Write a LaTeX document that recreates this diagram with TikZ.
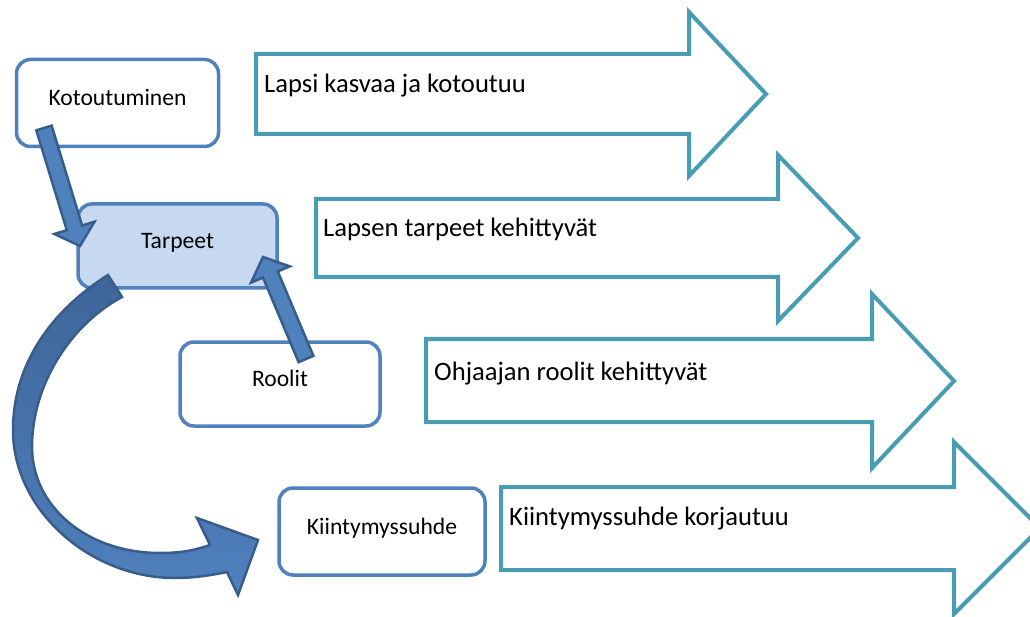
\documentclass[tikz,border=0pt]{standalone}
\usepackage{fontspec}
\setmainfont{Carlito}
\usetikzlibrary{calc}
\definecolor{boxblue}{RGB}{79,129,189}
\definecolor{boxfill}{RGB}{198,217,241}
\definecolor{trendteal}{RGB}{72,156,180}
\definecolor{darkblue}{RGB}{56,93,138}
\definecolor{curvetop}{RGB}{62,101,152}
\tikzset{
  stage/.style={draw=boxblue, line width=3.5pt, rounded corners=14pt, fill=white,
    font=\fontsize{23.6}{28}\selectfont, text height=17pt, text depth=12pt},
  trend/.style={draw=trendteal, line width=4pt, fill=white},
  trendtext/.style={anchor=base west, inner sep=0pt, font=\fontsize{26.6}{32}\selectfont},
  push/.style={draw=darkblue, line width=2.5pt, fill=boxblue,
    to path={($(\tikztostart)!8pt!90:(\tikztotarget)$)
      -- ($(\tikztotarget)!19pt!(\tikztostart)!8pt!90:(\tikztotarget)$)
      -- ($(\tikztotarget)!19pt!(\tikztostart)!21pt!90:(\tikztotarget)$)
      -- (\tikztotarget)
      -- ($(\tikztotarget)!19pt!(\tikztostart)!21pt!-90:(\tikztotarget)$)
      -- ($(\tikztotarget)!19pt!(\tikztostart)!8pt!-90:(\tikztotarget)$)
      -- ($(\tikztostart)!8pt!-90:(\tikztotarget)$) -- cycle}},
  curve/.style={draw=darkblue, line width=2.5pt, top color=curvetop, bottom color=boxblue}
}
\begin{document}
\begin{tikzpicture}[x=1pt,y=-1pt]
  \clip (0,0) rectangle (1030,617);
  % big arrows on the right
  \draw[trend] (256,54) -- (689,54) -- (689,12) -- (766,94) -- (689,176) -- (689,134) -- (256,134) -- cycle;
  \draw[trend] (316,199) -- (778,199) -- (778,155) -- (858,238) -- (778,321) -- (778,277) -- (316,277) -- cycle;
  \draw[trend] (426,339) -- (872,339) -- (872,294) -- (954,381) -- (872,468) -- (872,422) -- (426,422) -- cycle;
  \draw[trend] (501,487) -- (954,487) -- (954,442) -- (1040,528) -- (954,614) -- (954,570) -- (501,570) -- cycle;
  \node[trendtext] (lapsi) at (264,93) {Lapsi kasvaa ja kotoutuu};
  \node[trendtext] (lapsen) at (323,237) {Lapsen tarpeet kehittyvät};
  \node[trendtext] (ohjaaja) at (434,380) {Ohjaajan roolit kehittyvät};
  \node[trendtext] (korjaus) at (509,525) {Kiintymyssuhde korjautuu};
  % boxes
  \node[stage, minimum width=202pt, minimum height=87pt] (kot) at (117.5,103) {Kotoutuminen};
  \node[stage, fill=boxfill, minimum width=199pt, minimum height=84pt] (tarp) at (177.5,246) {Tarpeet};
  \node[stage, minimum width=200pt, minimum height=84pt] (rool) at (280,384) {Roolit};
  \node[stage, minimum width=206pt, minimum height=87pt] (kiin) at (382,531.5) {Kiintymyssuhde};
  % block arrows
  \coordinate (kottail) at (44,128);
  \coordinate (tarpin) at (80,246);
  \coordinate (rooltail) at (306,359);
  \coordinate (tarpright) at (263,257);
  \draw[push] (kottail) to (tarpin);
  \draw[push] (rooltail) to (tarpright);
  % curved arrow
  \draw[curve] (108,275) .. controls (45,315) and (13,370) .. (13,430)
    .. controls (13,510) and (90,578) .. (175,578)
    .. controls (195,578) and (212,575) .. (227,572)
    -- (238,595) -- (258,540) -- (197,518) -- (210,545)
    .. controls (190,552) and (175,553) .. (160,553)
    .. controls (85,553) and (32,505) .. (32,447)
    .. controls (32,385) and (70,325) .. (122,297) -- cycle;
\end{tikzpicture}
\end{document}
